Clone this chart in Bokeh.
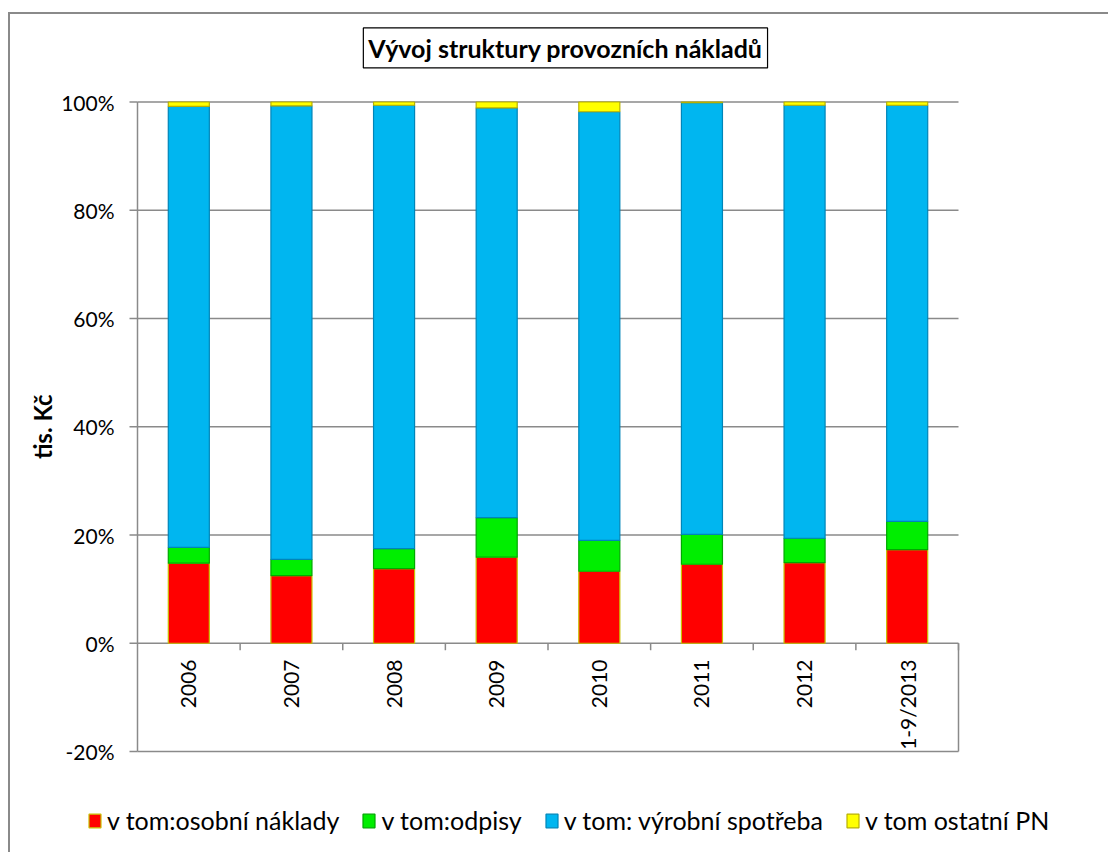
import math
from bokeh.plotting import figure
from bokeh.models import Range1d, ColumnDataSource, Legend, LegendItem, Label
from bokeh.embed import file_html
from bokeh.resources import INLINE
from bokeh.core.properties import value

# ---- data (shares in % of total operating costs) ----
categories = ["2006", "2007", "2008", "2009", "2010", "2011", "2012", "1-9/2013"]
osobni_naklady = [14.8, 12.5, 13.8, 15.9, 13.3, 14.6, 14.9, 17.3]
odpisy = [2.9, 3.0, 3.7, 7.3, 5.7, 5.5, 4.5, 5.2]
vyrobni_spotreba = [81.5, 83.8, 81.9, 75.7, 79.2, 79.8, 80.0, 76.9]
ostatni_pn = [0.8, 0.7, 0.6, 1.1, 1.8, 0.1, 0.6, 0.6]
series_names = ["v tom:osobní náklady", "v tom:odpisy", "v tom: výrobní spotřeba", "v tom ostatní PN"]
y_ticks = [-20, 0, 20, 40, 60, 80, 100]
y_tick_labels = ["-20%", "0%", "20%", "40%", "60%", "80%", "100%"]
title_text = "Vývoj struktury provozních nákladů"
y_label = "tis. Kč"

FONT = "Lato"
GRAY = "#8a8a8a"
fills = ["#ff0000", "#00ee00", "#00b6f0", "#ffff00"]
lines = ["#c8c000", "#00a800", "#0085b8", "#b8b000"]

# ---- layout geometry (pixels in the figure canvas) ----
W, H = 1100, 840                 # canvas size
PLOT_L, PLOT_R = 127, 948        # plot area left / right
PLOT_T, PLOT_B = 87.5, 737       # y of 100% and of -20%
n = len(categories)
ymin, ymax = y_ticks[0], y_ticks[-1]
px_x = (PLOT_R - PLOT_L) / n
px_y = (PLOT_B - PLOT_T) / (ymax - ymin)
x_range = Range1d(-PLOT_L / px_x, n + (W - PLOT_R) / px_x)
y_range = Range1d(ymin - (H - PLOT_B) / px_y, ymax + PLOT_T / px_y)

xs = [i + 0.5 for i in range(n)]
src = ColumnDataSource(dict(x=xs, cat=categories, osobni=osobni_naklady, odpisy=odpisy,
                            vyrobni=vyrobni_spotreba, ostatni=ostatni_pn))

p = figure(x_range=x_range, y_range=y_range, width=W, height=H, title=None,
           output_backend="svg", toolbar_location=None,
           x_axis_location=None, y_axis_location=None,
           min_border_left=0, min_border_right=0, min_border_top=0, min_border_bottom=0,
           margin=(12, 0, 0, 8),
           styles={"border-left": "2px solid #8a8a8a", "border-top": "2px solid #8a8a8a"})
p.outline_line_color = None
p.grid.visible = False

# gridlines and axis lines
p.segment(x0=0, x1=n, y0=y_ticks, y1=y_ticks, line_color=GRAY, line_width=1.5)
p.segment(x0=[0], x1=[0], y0=[ymin], y1=[ymax], line_color=GRAY, line_width=1.5)
p.segment(x0=[n], x1=[n], y0=[0], y1=[ymin], line_color=GRAY, line_width=1.5)
# y ticks and labels
p.ray(x=0, y=y_ticks, length=8, length_units="screen", angle=math.pi,
      line_color=GRAY, line_width=1.5)
p.text(x=0, y=y_ticks, text=y_tick_labels, x_offset=-23, text_align="right",
       text_baseline="middle", text_font=value(FONT), text_font_size="21px", text_color="black")
# category tick marks below zero line
p.ray(x=list(range(1, n + 1)), y=0, length=7, length_units="screen",
      angle=-math.pi / 2, line_color=GRAY, line_width=1.5)

renderers = p.vbar_stack(["osobni", "odpisy", "vyrobni", "ostatni"], x="x", width=0.4,
                         source=src, fill_color=fills, line_color=lines, line_width=1.2)

# category labels, rotated, below zero
p.text(x="x", y=-3, text="cat", source=src, angle=math.pi / 2,
       text_align="right", text_baseline="middle",
       text_font=value(FONT), text_font_size="21px", text_color="black")

# y axis title
p.text(x=[-0.93], y=[40], text=[y_label], angle=math.pi / 2, text_align="center",
       text_baseline="middle", text_font=value(FONT), text_font_size="24px",
       text_font_style="bold", text_color="black")

# boxed chart title
p.add_layout(Label(x=4.17, y=110.0, text=title_text, text_align="center", text_baseline="middle",
                   text_font=FONT, text_font_size="25px", text_font_style="bold",
                   text_color="black", border_line_color="black", border_line_width=1.2,
                   padding=5, background_fill_color="white"))

legend = Legend(items=[LegendItem(label=nm, renderers=[r]) for nm, r in zip(series_names, renderers)],
                orientation="horizontal", location=(77, 19), margin=0, padding=0,
                label_text_font=FONT, label_text_font_size="25px", label_text_color="black",
                glyph_width=15, glyph_height=17, label_standoff=5, spacing=22,
                border_line_color=None, background_fill_alpha=0)
p.add_layout(legend, "center")

open("out.html", "w").write(file_html(p, INLINE))
